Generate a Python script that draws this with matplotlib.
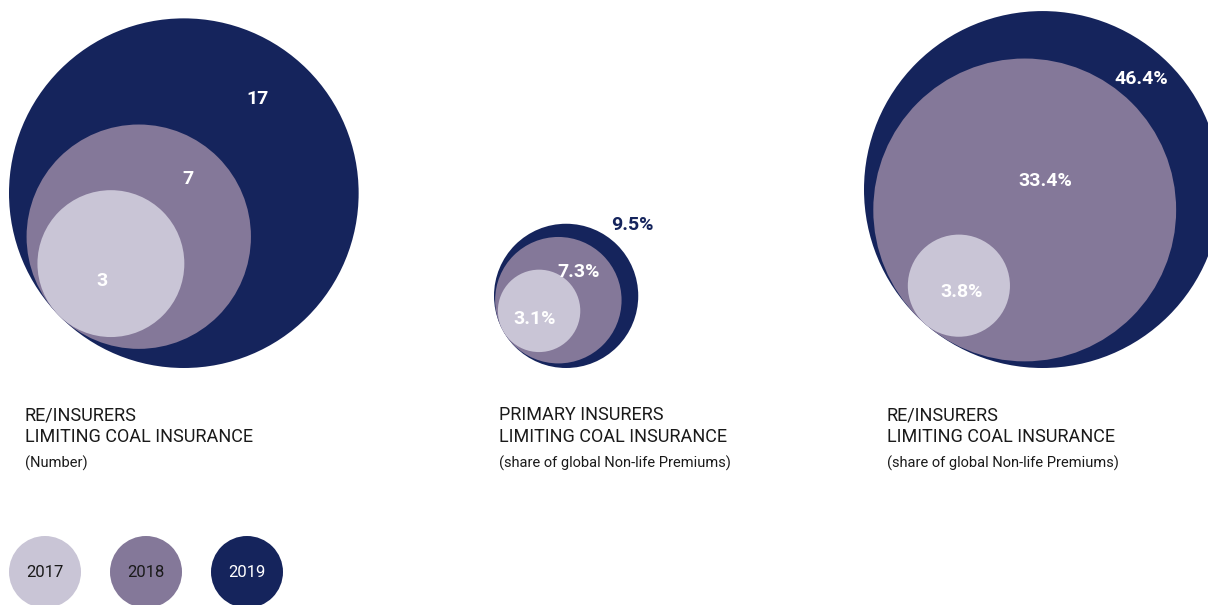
import matplotlib.pyplot as plt
import numpy as np
from matplotlib.patches import Circle

plt.rcParams["font.family"] = ["Roboto", "DejaVu Sans"]

# Data (order: 2017, 2018, 2019)
years = ["2017", "2018", "2019"]
count_values = [3, 7, 17]          # re/insurers limiting coal insurance (number)
primary_share = [3.1, 7.3, 9.5]    # primary insurers, % of global non-life premiums
reinsurer_share = [3.8, 33.4, 46.4]  # re/insurers, % of global non-life premiums

count_labels = [str(v) for v in count_values]
primary_labels = [f"{v}%" for v in primary_share]
reinsurer_labels = [f"{v}%" for v in reinsurer_share]

YEAR_COLORS = ["#C9C5D6", "#847899", "#15245C"]
YEAR_TEXT = ["#1a1a1a", "#1a1a1a", "white"]

# Layout in pixel units: outer-circle left edge, radius scale (sqrt of value),
# angle of the common tangent point, label anchor points and colours.
panels = [
    dict(values=count_values, labels=count_labels, left=9, scale=42.4, angle=136,
         label_xy=[(102, 279), (188, 177), (257, 97)],
         label_colors=["white", "white", "white"],
         title=["RE/INSURERS", "LIMITING COAL INSURANCE"], sub="(Number)", tx=25),
    dict(values=primary_share, labels=primary_labels, left=494, scale=23.4, angle=151,
         label_xy=[(535, 317), (579, 270), (632, 223)],
         label_colors=["white", "white", "#15245C"],
         title=["PRIMARY INSURERS", "LIMITING COAL INSURANCE"],
         sub="(share of global Non-life Premiums)", tx=499),
    dict(values=reinsurer_share, labels=reinsurer_labels, left=864, scale=26.2, angle=131,
         label_xy=[(962, 290), (1045, 179), (1141, 77)],
         label_colors=["white", "white", "white"],
         title=["RE/INSURERS", "LIMITING COAL INSURANCE"],
         sub="(share of global Non-life Premiums)", tx=887),
]
BOTTOM = 368  # all outer circles sit on the same baseline

fig = plt.figure(figsize=(12.08, 6.05), dpi=100)
ax = fig.add_axes([0, 0, 1, 1])
ax.set_xlim(0, 1208)
ax.set_ylim(605, 0)
ax.set_aspect("equal")
ax.axis("off")

for p in panels:
    radii = [p["scale"] * np.sqrt(v) for v in p["values"]]
    r_out = radii[-1]
    cx0, cy0 = p["left"] + r_out, BOTTOM - r_out
    d = np.array([np.cos(np.radians(p["angle"])), np.sin(np.radians(p["angle"]))])
    # draw largest first, inner circles internally tangent at the same point
    for i in reversed(range(len(radii))):
        c = np.array([cx0, cy0]) + (r_out - radii[i]) * d
        ax.add_patch(Circle(c, radii[i], facecolor=YEAR_COLORS[i], edgecolor="none"))
    for (x, y), lab, col in zip(p["label_xy"], p["labels"], p["label_colors"]):
        ax.text(x, y + 7, lab, ha="center", va="baseline", color=col,
                fontsize=14, fontweight="bold")
    ax.text(p["tx"], 420, p["title"][0], ha="left", va="baseline",
            fontsize=13, color="#1a1a1a")
    ax.text(p["tx"], 442, p["title"][1], ha="left", va="baseline",
            fontsize=13, color="#1a1a1a")
    ax.text(p["tx"], 468, p["sub"], ha="left", va="baseline",
            fontsize=10.5, color="#1a1a1a")

# Legend
for i, yr in enumerate(years):
    x = 45 + i * 101
    ax.add_patch(Circle((x, 572), 36, facecolor=YEAR_COLORS[i], edgecolor="none"))
    ax.text(x, 577, yr, ha="center", va="baseline", fontsize=12, color=YEAR_TEXT[i])

fig.savefig("out.png", dpi=100)
